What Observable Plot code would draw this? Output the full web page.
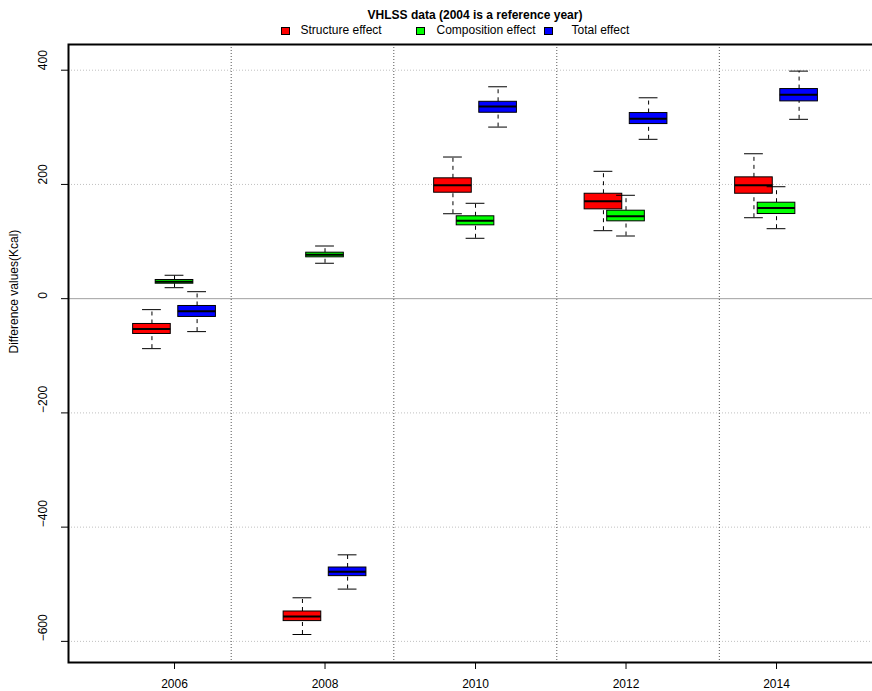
<!DOCTYPE html>
<html><head><meta charset="utf-8">
<script src="https://cdn.jsdelivr.net/npm/d3@7"></script>
<script src="https://cdn.jsdelivr.net/npm/@observablehq/plot@0.6"></script>
<style>
html,body{margin:0;padding:0;overflow:hidden;background:#fff;}
body{font-family:"Liberation Sans",Arial,Helvetica,sans-serif;color:#000;}
#header{position:relative;height:40px;width:872px;}
#title{position:absolute;left:0;width:950px;top:8px;text-align:center;font-weight:bold;font-size:12px;line-height:14px;}
.sw{position:absolute;top:26.5px;width:9px;height:8px;box-sizing:border-box;border:1px solid #000;}
.lt{position:absolute;top:23px;font-size:12px;line-height:14px;white-space:nowrap;}
#chart svg{overflow:hidden;}
</style></head><body>
<div id="header">
  <div id="title">VHLSS data (2004 is a reference year)</div>
</div>
<div id="chart"></div>
<script>
// ---- data ----
const years = [2006, 2008, 2010, 2012, 2014];
const series = ["Structure effect", "Composition effect", "Total effect"];
const colors = ["#FF0000", "#00FF00", "#0000FF"];
// five-number summaries per year: [lower whisker, Q1, median, Q3, upper whisker]
const structure = [
  [-87.5, -61.8, -53.0, -44.3, -19.2],
  [-588, -564.5, -556.4, -547.7, -523.7],
  [148.7, 185.5, 198.4, 210.7, 248],
  [119, 156.4, 170.4, 183.7, 223],
  [141.7, 183.7, 198.4, 212.4, 253.7]
];
const composition = [
  [19.2, 26.2, 29.7, 32.7, 41],
  [62, 72.4, 77, 80.5, 92.2],
  [105.7, 128.4, 136.5, 144.2, 167],
  [109.7, 135.4, 144.2, 154, 181],
  [122.5, 148.2, 158.7, 168, 196]
];
const total = [
  [-57.7, -32, -22, -12.8, 12.2],
  [-508.5, -485.8, -478.2, -470.7, -448.5],
  [300.4, 325.5, 336.6, 344.7, 371],
  [279, 305.7, 315, 325, 351.7],
  [314, 345.4, 357, 367, 398.4]
];
const yTicks = [-600, -400, -200, 0, 200, 400];
const separators = [2006.753, 2008.914, 2011.08, 2013.24];
const yLabel = "Difference values(Kcal)";

// ---- layout constants ----
const offsets = [-0.3, 0, 0.3];
const boxHalf = 0.25, capHalf = 0.125;
const allData = [structure, composition, total];

// legend (HTML)
const header = document.getElementById("header");
const swLeft = [281, 416, 544], txtLeft = [300.5, 436.5, 571.5];
series.forEach((s, i) => {
  const sw = document.createElement("div");
  sw.className = "sw"; sw.style.left = swLeft[i] + "px"; sw.style.background = colors[i];
  header.appendChild(sw);
  const t = document.createElement("div");
  t.className = "lt"; t.style.left = txtLeft[i] + "px"; t.textContent = s;
  header.appendChild(t);
});

const fmt = d => d < 0 ? "\u2212" + Math.abs(d) : String(d);

const marks = [
  Plot.ruleY(yTicks.filter(v => v !== 0), {stroke: "#c0c0c0", strokeDasharray: "1,2"}),
  Plot.ruleY([0], {stroke: "#a0a0a0"}),
  Plot.ruleX(separators, {stroke: "#555", strokeDasharray: "1,2"})
];

series.forEach((s, i) => {
  const rows = years.map((yr, j) => {
    const v = allData[i][j];
    return {pos: yr + offsets[i], lo: v[0], q1: v[1], med: v[2], q3: v[3], hi: v[4]};
  });
  marks.push(
    Plot.ruleX(rows, {x: "pos", y1: "lo", y2: "q1", stroke: "#000", strokeDasharray: "4,4"}),
    Plot.ruleX(rows, {x: "pos", y1: "q3", y2: "hi", stroke: "#000", strokeDasharray: "4,4"}),
    Plot.ruleY(rows, {y: "lo", x1: d => d.pos - capHalf, x2: d => d.pos + capHalf, stroke: "#000"}),
    Plot.ruleY(rows, {y: "hi", x1: d => d.pos - capHalf, x2: d => d.pos + capHalf, stroke: "#000"}),
    Plot.rect(rows, {x1: d => d.pos - boxHalf, x2: d => d.pos + boxHalf, y1: "q1", y2: "q3", fill: colors[i], stroke: "#000", strokeWidth: 1}),
    Plot.ruleY(rows, {y: "med", x1: d => d.pos - boxHalf, x2: d => d.pos + boxHalf, stroke: "#000", strokeWidth: 2})
  );
});

marks.push(
  Plot.frame({stroke: "#000", strokeWidth: 2}),
  Plot.axisX(years, {tickSize: 7, tickPadding: 10, tickFormat: d => String(d), fontSize: 12, stroke: "#000"}),
  Plot.axisY(yTicks, {tickSize: 7, tickFormat: () => "", stroke: "#000"}),
  Plot.text(yTicks, {y: d => d, text: fmt, frameAnchor: "left", dx: -25, rotate: -90, fontSize: 12, fill: "#000"}),
  Plot.text([yLabel], {text: d => d, frameAnchor: "left", dx: -54, rotate: -90, fontSize: 12, fill: "#000"})
);

const chart = Plot.plot({
  width: 872,
  height: 651,
  marginLeft: 68,
  marginRight: -2,
  marginTop: 4,
  marginBottom: 29,
  style: {fontFamily: "Liberation Sans, Arial, Helvetica, sans-serif", fontSize: "12px", color: "#000", background: "#fff"},
  x: {type: "linear", domain: [2004.591, 2015.302], label: null},
  y: {domain: [-637, 445], label: null},
  marks
});
document.getElementById("chart").appendChild(chart);
</script>
</body></html>
